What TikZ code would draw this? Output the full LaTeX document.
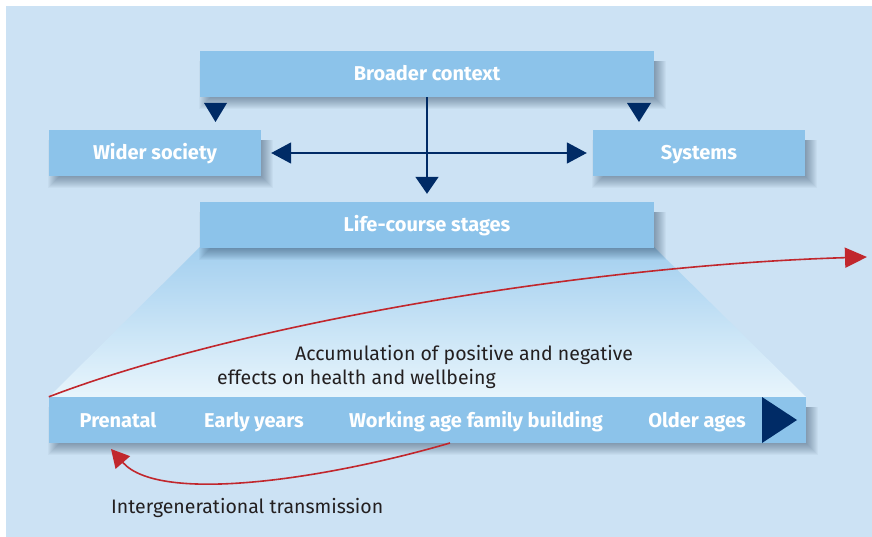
\documentclass[tikz,border=0pt]{standalone}
\usepackage{fontspec}
\setmainfont{Fira Sans}
\usetikzlibrary{arrows.meta}
\definecolor{bgblue}{HTML}{CCE2F4}
\definecolor{boxblue}{HTML}{8CC3EA}
\definecolor{navy}{HTML}{002B66}
\definecolor{redline}{HTML}{C1272D}
\definecolor{trtop}{HTML}{A3CFEF}
\definecolor{trbot}{HTML}{E8F5FC}
\definecolor{txt}{HTML}{231F20}
\definecolor{shadowcol}{HTML}{1A3550}
\pgfdeclarelayer{back}
\pgfdeclarelayer{shadowlayer}
\pgfsetlayers{back,shadowlayer,main}
\newcommand\myboxshadow[1]{%
  \begin{pgfonlayer}{shadowlayer}
  \foreach \e in {0,...,11}{%
    \fill[shadowcol,opacity=0.04] ([xshift=10pt-\e pt, yshift=-10pt]#1.north west) rectangle ([xshift=1pt+\e pt, yshift=-1pt-\e pt]#1.south east);}
  \end{pgfonlayer}}
\tikzset{
  bluebox/.style={rectangle, fill=boxblue, inner sep=0pt, text=white,
    font=\fontsize{20}{24}\selectfont\bfseries, text height=14pt, text depth=0pt},
  stagelabel/.style={text=white, font=\fontsize{20}{24}\selectfont\bfseries, inner sep=0pt, anchor=base},
  plaintext/.style={text=txt, font=\fontsize{19.5}{23}\selectfont, inner sep=0pt, anchor=base west},
  navyarrow/.style={draw=navy, line width=1.8pt},
  redarrow/.style={draw=redline, line width=1.6pt}
}
\begin{document}
\begin{tikzpicture}[x=1pt,y=-1pt]
\useasboundingbox (0,0) rectangle (872,537);
\begin{pgfonlayer}{back}
\fill[bgblue] (6,6) rectangle (872,537);
\shade[top color=trtop, bottom color=trbot] (200,247) -- (654,247) -- (806,397) -- (49,397) -- cycle;
\end{pgfonlayer}
% boxes
\node[bluebox, minimum width=454pt, minimum height=46pt] (bc) at (427,74) {Broader context};
\node[bluebox, minimum width=212pt, minimum height=46pt] (ws) at (155,153) {Wider society};
\node[bluebox, minimum width=212pt, minimum height=46pt] (sy) at (699,153) {Systems};
\node[bluebox, minimum width=454pt, minimum height=46pt] (lc) at (427,225) {Life-course stages};
\node[bluebox, minimum width=757pt, minimum height=46pt] (bar) at (427.5,420) {};
\myboxshadow{bc}
\myboxshadow{ws}
\myboxshadow{sy}
\myboxshadow{lc}
\myboxshadow{bar}
% navy triangle in bar
\fill[navy] (762,397) -- (797,420) -- (762,443) -- cycle;
% stage labels
\node[stagelabel] (s1) at (118,427) {Prenatal};
\node[stagelabel] (s2) at (254,427) {Early years};
\node[stagelabel] (s3) at (476,427) {Working age family building};
\node[stagelabel] (s4) at (697,427) {Older ages};
% small triangles under broader context
\fill[navy] (204,103) -- (227,103) -- (215.5,122) -- cycle;
\fill[navy] (627,103) -- (651,103) -- (639,122) -- cycle;
% connectors
\draw[navyarrow, -{Triangle[length=17pt,width=23pt]}, shorten >=8pt] (bc.south) -- (lc.north);
\draw[navyarrow, {Triangle[length=20pt,width=21pt]}-{Triangle[length=20pt,width=21pt]}, shorten <=10pt, shorten >=6pt] (ws.east) -- (sy.west);
% text
\node[plaintext] (acc1) at (295,360) {Accumulation of positive and negative};
\node[plaintext] (acc2) at (217,384) {effects on health and wellbeing};
\node[plaintext] (ig) at (111,513) {Intergenerational transmission};
% red arrows
\coordinate (redend) at (867,257);
\draw[redarrow, -{Triangle[length=22pt,width=20pt]}] (bar.north west) .. controls (250,320) and (600,265) .. (redend);
\coordinate (redstart) at (450,443);
\coordinate (redtip) at (111,449);
\draw[redarrow, -{Triangle[length=18pt,width=19pt]}] (redstart) .. controls (330,478) and (160,505) .. (redtip);
\end{tikzpicture}
\end{document}
